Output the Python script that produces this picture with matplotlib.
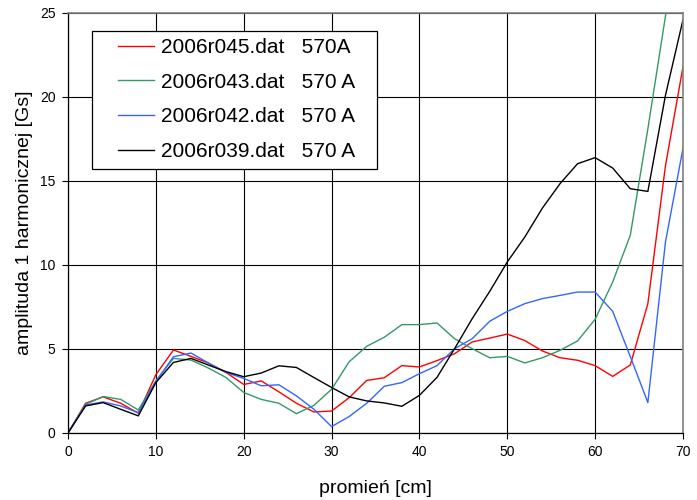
import matplotlib
matplotlib.use("Agg")
import matplotlib.pyplot as plt
from matplotlib.patches import Rectangle

plt.rcParams['font.family'] = ['Liberation Sans', 'DejaVu Sans']

# promien [cm]
promien = [0, 2, 4, 6, 8, 10, 12, 14, 16, 18, 20, 22, 24, 26, 28, 30, 32, 34,
           36, 38, 40, 42, 44, 46, 48, 50, 52, 54, 56, 58, 60, 62, 64, 66, 68, 70]

r045 = [0, 1.77, 2.15, 1.77, 1.18, 3.47, 4.94, 4.56, 4.16, 3.6, 2.89, 3.1, 2.45,
        1.77, 1.25, 1.31, 2.1, 3.13, 3.29, 4.01, 3.93, 4.31, 4.72, 5.42, 5.65,
        5.89, 5.5, 4.88, 4.48, 4.33, 4.01, 3.37, 4.05, 7.7, 15.9, 21.8]
r043 = [0, 1.71, 2.17, 2.0, 1.37, 3.1, 4.44, 4.34, 3.86, 3.3, 2.41, 2.0, 1.77,
        1.15, 1.65, 2.6, 4.24, 5.16, 5.7, 6.45, 6.45, 6.55, 5.61, 5.02, 4.48,
        4.56, 4.17, 4.48, 4.92, 5.48, 6.77, 8.99, 11.77, 18.1, 24.8, 33.0]
r042 = [0, 1.67, 1.85, 1.61, 1.21, 3.07, 4.54, 4.76, 4.16, 3.6, 3.25, 2.81, 2.87,
        2.21, 1.41, 0.38, 0.98, 1.77, 2.78, 3.0, 3.53, 4.01, 5.02, 5.61, 6.65,
        7.24, 7.7, 8.0, 8.19, 8.39, 8.39, 7.24, 4.55, 1.81, 11.36, 16.95]
r039 = [0, 1.61, 1.81, 1.41, 1.02, 3.0, 4.2, 4.44, 4.04, 3.65, 3.35, 3.57, 4.0,
        3.9, 3.3, 2.71, 2.15, 1.91, 1.79, 1.59, 2.24, 3.31, 5.02, 6.8, 8.43,
        10.18, 11.67, 13.39, 14.84, 16.03, 16.39, 15.77, 14.54, 14.38, 20.09, 24.6]

labels = ['2006r045.dat   570A', '2006r043.dat   570 A',
          '2006r042.dat   570 A', '2006r039.dat   570 A']
colors = ['#ff0000', '#339966', '#3366ff', '#000000']

fig = plt.figure(figsize=(6.97, 5.0), dpi=100)
ax = fig.add_axes([68 / 697, 1 - 433 / 500, 615 / 697, 420 / 500])

for ys, lab, c in zip([r045, r043, r042, r039], labels, colors):
    ax.plot(promien, ys, color=c, lw=1.0, label=lab)

ax.set_xlim(0, 70)
ax.set_ylim(0, 25)
ax.set_xticks(range(0, 71, 10))
ax.set_yticks(range(0, 26, 5))
ax.grid(True, color='black', lw=0.8)
ax.set_axisbelow(True)
ax.tick_params(labelsize=10, direction='out', length=4, width=0.8, pad=5)

for s in ['left', 'bottom']:
    ax.spines[s].set_color('black')
    ax.spines[s].set_linewidth(0.9)
for s in ['top', 'right']:
    ax.spines[s].set_color('#808080')
    ax.spines[s].set_linewidth(1.2)

ax.set_xlabel('promień [cm]', fontsize=14, labelpad=15)
ax.set_ylabel('amplituda 1 harmonicznej [Gs]', fontsize=14, labelpad=5)

# legend without frame, box drawn behind it
leg = ax.legend(loc='upper left', bbox_to_anchor=(118 / 697, 1 - 38 / 500),
                bbox_transform=fig.transFigure, frameon=False, fontsize=15,
                borderpad=0, borderaxespad=0, handlelength=1.75,
                handletextpad=0.3, labelspacing=0.75)
leg.set_zorder(6)
box = Rectangle((92 / 697, 1 - 169 / 500), 285 / 697, 138 / 500,
                transform=fig.transFigure, facecolor='white',
                edgecolor='black', lw=0.9, zorder=5)
ax.add_patch(box)

fig.savefig('out.png', dpi=100)
